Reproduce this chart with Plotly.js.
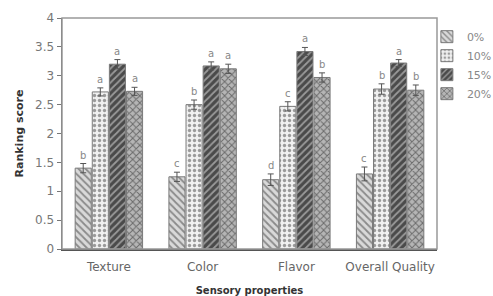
<!DOCTYPE html>
<html><head><meta charset="utf-8">
<script src="https://cdn.plot.ly/plotly-3.0.1.min.js"></script>
<style>body{margin:0;background:#fff}#c{width:493px;height:296px;overflow:hidden}</style>
</head><body><div id="c"></div>
<script>
const categories = ["Texture", "Color", "Flavor", "Overall Quality"];
const seriesNames = ["0%", "10%", "15%", "20%"];
const v0 = [1.40, 1.25, 1.20, 1.30];
const v10 = [2.72, 2.50, 2.47, 2.77];
const v15 = [3.20, 3.17, 3.42, 3.22];
const v20 = [2.73, 3.12, 2.97, 2.75];
const e0 = [0.08, 0.08, 0.10, 0.12];
const e10 = [0.07, 0.08, 0.08, 0.09];
const e15 = [0.08, 0.07, 0.07, 0.06];
const e20 = [0.07, 0.08, 0.08, 0.09];
const l0 = ["b", "c", "d", "c"];
const l10 = ["a", "b", "c", "b"];
const l15 = ["a", "a", "a", "a"];
const l20 = ["a", "a", "b", "b"];

const values = [v0, v10, v15, v20];
const errs = [e0, e10, e15, e20];
const letters = [l0, l10, l15, l20];
const fills = ["#d9d9d9", "#f0f0f0", "#4a4a4a", "#b5b5b5"];
const pfg = ["#8a8a8a", "#9a9a9a", "#9a9a9a", "#6a6a6a"];
const shapes = ["\\", ".", "/", "x"];
const FONT = "DejaVu Sans, Verdana, sans-serif";

const bargap = 0.27, groupgap = 0.06;
const traces = seriesNames.map((n, k) => ({
  type: "bar", name: n, x: categories, y: values[k],
  marker: {color: fills[k], line: {color: "#7a7a7a", width: 1},
    pattern: {shape: shapes[k], fgcolor: pfg[k], bgcolor: fills[k], size: 5, solidity: 0.35}},
  error_y: {type: "data", array: errs[k], color: "#555", thickness: 1, width: 3}
}));

const annotations = [];
const slot = (1 - bargap) / seriesNames.length;
seriesNames.forEach((n, k) => {
  categories.forEach((c, i) => {
    annotations.push({
      x: i - (1 - bargap) / 2 + slot * (k + 0.5), xref: "x",
      y: values[k][i] + errs[k][i], yref: "y",
      text: letters[k][i], showarrow: false, yanchor: "bottom", yshift: 1,
      font: {family: FONT, size: 10, color: "#888"}
    });
  });
});

const layout = {
  width: 493, height: 296,
  margin: {l: 62, r: 56, t: 18, b: 47, autoexpand: false},
  paper_bgcolor: "#fff", plot_bgcolor: "#fff",
  barmode: "group", bargap: bargap, bargroupgap: groupgap,
  font: {family: FONT, size: 12, color: "#555"},
  showlegend: true,
  legend: {x: 0.973, y: 0.982, xanchor: "left", yanchor: "top", bgcolor: "rgba(0,0,0,0)",
    font: {family: FONT, size: 11, color: "#888"}, tracegroupgap: 0, itemwidth: 30},
  xaxis: {showline: true, linecolor: "#555", linewidth: 1.5, mirror: false, ticks: "",
    tickfont: {family: FONT, size: 12, color: "#666"}, ticklabelstandoff: 6,
    title: {text: "<b>Sensory properties</b>", font: {family: FONT, size: 10, color: "#333"}, standoff: 16},
    range: [-0.5, 3.5]},
  yaxis: {range: [0, 4], dtick: 0.5, showgrid: false, zeroline: false,
    showline: true, linecolor: "#666", linewidth: 1.5, ticks: "outside", ticklen: 4, tickcolor: "#777",
    tickfont: {family: FONT, size: 12, color: "#777"},
    title: {text: "<b>Ranking score</b>", font: {family: FONT, size: 11, color: "#333"}, standoff: 9}},
  shapes: [{type: "rect", xref: "paper", yref: "paper", x0: 0, x1: 1, y0: 0, y1: 1,
    line: {color: "#999", width: 1.5}}],
  annotations: annotations
};
Plotly.newPlot("c", traces, layout, {staticPlot: true});
</script></body></html>
